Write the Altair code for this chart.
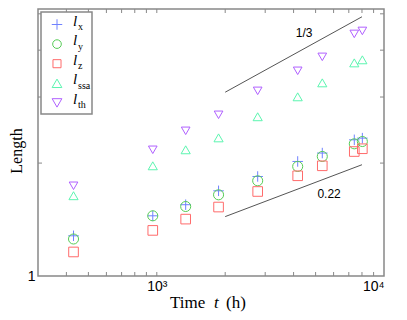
import altair as alt
import pandas as pd

# ---- data ----
times = [430, 960, 1340, 1870, 2780, 4170, 5350, 7400, 8030]
l_x = [1.28, 1.447, 1.549, 1.687, 1.842, 2.02, 2.127, 2.307, 2.331]
l_y = [1.255, 1.447, 1.532, 1.646, 1.794, 1.959, 2.083, 2.251, 2.283]
l_z = [1.159, 1.323, 1.418, 1.527, 1.68, 1.85, 1.967, 2.147, 2.184]
l_ssa = [1.637, 1.967, 2.17, 2.335, 2.658, 3.004, 3.273, 3.7, 3.77]
l_th = [1.74, 2.17, 2.438, 2.69, 3.116, 3.524, 3.839, 4.42, 4.502]

series_names = ["lx", "ly", "lz", "lssa", "lth"]
series_subs = ["x", "y", "z", "ssa", "th"]
series_colors = ["#7082ff", "#55cc55", "#ff6b6b", "#5cf5b0", "#b060ff"]
plus_path = "M-1,0L1,0M0,-1L0,1"
series_shapes = [plus_path, "circle", "square", "triangle-up", "triangle-down"]
series_sizes = [110, 75, 65, 95, 95]

slope_lines = {
    "1/3": {"t": [2000, 8000], "L": [3.09, 4.91], "label_t": 4450, "label_L": 4.45},
    "0.22": {"t": [2000, 8000], "L": [1.44, 1.98], "label_t": 5730, "label_L": 1.656},
}

x_minor = [400, 500, 600, 700, 800, 900, 1000, 2000, 3000, 4000, 5000, 6000, 7000, 8000, 9000]
y_minor = [2, 3, 4, 5]

W, H = 346, 267
XDOM = [300, 10000]
YDOM = [1, 5.15]

rows = []
for name, vals in zip(series_names, [l_x, l_y, l_z, l_ssa, l_th]):
    for t, v in zip(times, vals):
        rows.append({"t": t, "L": v, "series": name})
df = pd.DataFrame(rows)

xs = alt.Scale(type="log", domain=XDOM, nice=False)
ys = alt.Scale(type="log", domain=YDOM, nice=False)

x_enc = alt.X("t:Q", scale=xs, axis=alt.Axis(
    values=[1000, 10000], labelExpr="datum.value == 1000 ? '10³' : '10⁴'",
    ticks=False, domain=False, grid=False, title=None,
    labelFont="Liberation Sans", labelFontSize=14, labelColor="#000", labelPadding=3))
y_enc = alt.Y("L:Q", scale=ys, axis=alt.Axis(
    values=[1], labelExpr="'1'", ticks=False, domain=False, grid=False, title=None,
    labelFont="Liberation Sans", labelFontSize=14, labelColor="#000", labelPadding=3))

points = alt.Chart(df).mark_point(filled=False, strokeWidth=1, opacity=1).encode(
    x=x_enc, y=y_enc,
    color=alt.Color("series:N", scale=alt.Scale(domain=series_names, range=series_colors), legend=None),
    shape=alt.Shape("series:N", scale=alt.Scale(domain=series_names, range=series_shapes), legend=None),
    size=alt.Size("series:N", scale=alt.Scale(domain=series_names, range=series_sizes), legend=None),
)

layers = []
# tick marks inside the frame
xt = pd.DataFrame({"t": x_minor})
layers.append(alt.Chart(xt).mark_rule(color="#888", strokeWidth=1).encode(
    x=alt.X("t:Q", scale=xs), y=alt.value(H), y2=alt.value(H - 4)))
layers.append(alt.Chart(xt).mark_rule(color="#888", strokeWidth=1).encode(
    x=alt.X("t:Q", scale=xs), y=alt.value(0), y2=alt.value(4)))
yt = pd.DataFrame({"L": y_minor})
layers.append(alt.Chart(yt).mark_rule(color="#888", strokeWidth=1).encode(
    y=alt.Y("L:Q", scale=ys), x=alt.value(0), x2=alt.value(4)))
layers.append(alt.Chart(yt).mark_rule(color="#888", strokeWidth=1).encode(
    y=alt.Y("L:Q", scale=ys), x=alt.value(W), x2=alt.value(W - 4)))

# slope guide lines and labels
for lab, d in slope_lines.items():
    ld = pd.DataFrame({"t": d["t"], "L": d["L"]})
    layers.append(alt.Chart(ld).mark_line(color="#555", strokeWidth=1).encode(
        x=alt.X("t:Q", scale=xs), y=alt.Y("L:Q", scale=ys)))
    td = pd.DataFrame({"t": [d["label_t"]], "L": [d["label_L"]], "txt": [lab]})
    layers.append(alt.Chart(td).mark_text(font="Liberation Sans", fontSize=12, color="#000").encode(
        x=alt.X("t:Q", scale=xs), y=alt.Y("L:Q", scale=ys), text="txt:N"))

layers.append(points)

# legend (manual, to allow subscripts)
leg_box = alt.Chart(pd.DataFrame({"a": [0]})).mark_rect(
    fill="white", stroke="#888", strokeWidth=1.5).encode(
    x=alt.value(3), x2=alt.value(54), y=alt.value(3), y2=alt.value(105))
layers.append(leg_box)
for i, (name, sub, col, shp, sz) in enumerate(zip(series_names, series_subs, series_colors, series_shapes, series_sizes)):
    yy = 15.5 + i * 19.6
    one = pd.DataFrame({"a": [0]})
    layers.append(alt.Chart(one).mark_point(shape=shp, color=col, filled=False, size=sz, strokeWidth=1, opacity=1).encode(
        x=alt.value(19), y=alt.value(yy)))
    layers.append(alt.Chart(one).mark_text(text="l", font="Liberation Serif", fontStyle="italic",
                                           fontSize=15, align="left", baseline="alphabetic", color="#000").encode(
        x=alt.value(35), y=alt.value(yy + 1)))
    layers.append(alt.Chart(one).mark_text(text=sub, font="Liberation Serif",
                                           fontSize=10, align="left", baseline="alphabetic", color="#000").encode(
        x=alt.value(40), y=alt.value(yy + 5.5)))

# axis titles
one = pd.DataFrame({"a": [0]})
layers.append(alt.Chart(one).mark_text(text="Time", font="Liberation Serif", fontSize=17,
                                       align="left", baseline="alphabetic", color="#000").encode(
    x=alt.value(132), y=alt.value(299)))
layers.append(alt.Chart(one).mark_text(text="t", font="Liberation Serif", fontStyle="italic", fontSize=17,
                                       align="left", baseline="alphabetic", color="#000").encode(
    x=alt.value(176), y=alt.value(299)))
layers.append(alt.Chart(one).mark_text(text="(h)", font="Liberation Serif", fontSize=17,
                                       align="left", baseline="alphabetic", color="#000").encode(
    x=alt.value(188), y=alt.value(299)))
layers.append(alt.Chart(one).mark_text(text="Length", font="Liberation Serif", fontSize=16, angle=270,
                                       align="center", baseline="alphabetic", color="#000").encode(
    x=alt.value(-16), y=alt.value(142)))

chart = alt.layer(*layers).properties(
    width=W, height=H,
    autosize=alt.AutoSizeParams(type="none"),
    padding={"left": 30, "top": 1, "right": 15, "bottom": 36},
    background="white",
).configure_view(stroke="#888", strokeWidth=1.5)

chart.save("out.html", embed_options={"renderer": "svg", "actions": False})
